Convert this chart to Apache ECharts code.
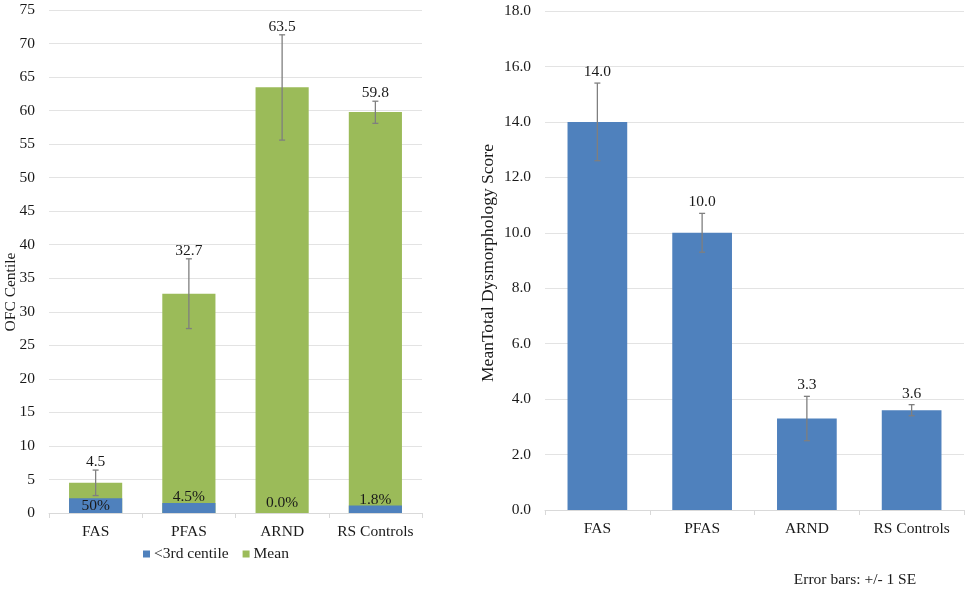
<!DOCTYPE html>
<html>
<head>
<meta charset="utf-8">
<script src="https://cdn.jsdelivr.net/npm/echarts@6/dist/echarts.min.js"></script>
<style>html,body{margin:0;padding:0;background:#fff;}#c{width:969px;height:591px;}</style>
</head>
<body>
<div id="c"></div>
<script>
// ---- data ----
const categories = ['FAS', 'PFAS', 'ARND', 'RS Controls'];
// left chart: OFC centile
const ofcMean = [4.5, 32.7, 63.5, 59.8];
const ofcErrLow = [2.6, 27.5, 55.6, 58.1];
const ofcErrHigh = [6.4, 37.9, 71.3, 61.4];
const below3rd = [2.2, 1.5, 0, 1.1];
const below3rdLabels = ['50%', '4.5%', '0.0%', '1.8%'];
const leftTicks = {min: 0, max: 75, interval: 5};
// right chart: dysmorphology score
const dysMean = [14.0, 10.0, 3.3, 3.6];
const dysErrLow = [12.6, 9.3, 2.5, 3.4];
const dysErrHigh = [15.4, 10.7, 4.1, 3.8];
const rightTicks = {min: 0, max: 18, interval: 2};

// ---- styling ----
const FONT = '"Liberation Serif", "Times New Roman", serif';
const FS = 15.5;
const TXT = '#1a1a1a';
const GREEN = '#9BBB59';
const BLUE = '#4F81BD';
const ERR = '#7f7f7f';

function errSeries(xi, yi, low, high, labels, labelOffset) {
  return {
    type: 'custom', xAxisIndex: xi, yAxisIndex: yi, z: 10, silent: true,
    data: categories.map((c, i) => [i, low[i], high[i]]),
    renderItem: function (params, api) {
      const x = api.value(0);
      const lo = api.coord([x, api.value(1)]);
      const hi = api.coord([x, api.value(2)]);
      const cap = 3;
      const st = {stroke: ERR, lineWidth: 1.3};
      return {type: 'group', children: [
        {type: 'line', shape: {x1: lo[0], y1: lo[1], x2: hi[0], y2: hi[1]}, style: st},
        {type: 'line', shape: {x1: hi[0] - cap, y1: hi[1], x2: hi[0] + cap, y2: hi[1]}, style: st},
        {type: 'line', shape: {x1: lo[0] - cap, y1: lo[1], x2: lo[0] + cap, y2: lo[1]}, style: st},
        {type: 'text', x: hi[0], y: hi[1] - labelOffset, style: {
          text: labels[params.dataIndex], fill: TXT, font: FS + 'px ' + FONT, textAlign: 'center', textVerticalAlign: 'middle'}}
      ]};
    }
  };
}

function xAxisDef(gi) {
  return {
    type: 'category', gridIndex: gi, data: categories,
    axisLine: {lineStyle: {color: '#d9d9d9', width: 1}},
    axisTick: {show: true, length: 5, interval: 0, lineStyle: {color: '#d9d9d9'}},
    axisLabel: {color: TXT, fontFamily: FONT, fontSize: FS, margin: 11, interval: 0}
  };
}
function yAxisDef(gi, t, fmt) {
  return {
    type: 'value', gridIndex: gi, min: t.min, max: t.max, interval: t.interval,
    axisLine: {show: false}, axisTick: {show: false},
    splitLine: {lineStyle: {color: '#e3e3e3', width: 1}},
    axisLabel: {color: TXT, fontFamily: FONT, fontSize: FS, margin: 14, formatter: fmt}
  };
}

const labelPos = ['inside', 'top', 'top', 'top'];
const labelDist = [0, -2, 2, -2];

const option = {
  animation: false,
  backgroundColor: '#fff',
  grid: [
    {left: 49, right: 547, top: 10, bottom: 78},
    {left: 545, right: 5, top: 11, bottom: 81}
  ],
  xAxis: [xAxisDef(0), xAxisDef(1)],
  yAxis: [yAxisDef(0, leftTicks, v => String(v)), yAxisDef(1, rightTicks, v => v.toFixed(1))],
  legend: {
    left: 138, top: 541, data: ['<3rd centile', 'Mean'],
    icon: 'rect', itemWidth: 7, itemHeight: 7, itemGap: 14,
    textStyle: {color: TXT, fontFamily: FONT, fontSize: FS, padding: [0, 0, 0, -1]}
  },
  graphic: [
    {type: 'text', x: 11, y: 292, rotation: Math.PI / 2,
     style: {text: 'OFC Centile', fill: TXT, font: FS + 'px ' + FONT, textAlign: 'center', textVerticalAlign: 'middle'}},
    {type: 'text', x: 488, y: 263, rotation: Math.PI / 2,
     style: {text: 'MeanTotal Dysmorphology Score', fill: TXT, font: '17.5px ' + FONT, textAlign: 'center', textVerticalAlign: 'middle'}},
    {type: 'text', x: 855, y: 580,
     style: {text: 'Error bars: +/- 1 SE', fill: TXT, font: FS + 'px ' + FONT, textAlign: 'center', textVerticalAlign: 'middle'}}
  ],
  series: [
    {name: 'Mean', type: 'bar', xAxisIndex: 0, yAxisIndex: 0, data: ofcMean,
     barWidth: '57%', barGap: '-100%', itemStyle: {color: GREEN}},
    {name: '<3rd centile', type: 'bar', xAxisIndex: 0, yAxisIndex: 0,
     data: below3rd.map((v, i) => ({value: v, label: {position: labelPos[i], distance: labelDist[i]}})),
     barWidth: '57%', barGap: '-100%', itemStyle: {color: BLUE},
     label: {show: true, color: TXT, fontFamily: FONT, fontSize: FS,
       formatter: p => below3rdLabels[p.dataIndex]}},
    errSeries(0, 0, ofcErrLow, ofcErrHigh, ofcMean.map(v => v.toFixed(1)), 8),
    {name: 'Score', type: 'bar', xAxisIndex: 1, yAxisIndex: 1, data: dysMean,
     barWidth: '57%', itemStyle: {color: BLUE}},
    errSeries(1, 1, dysErrLow, dysErrHigh, dysMean.map(v => v.toFixed(1)), 11)
  ]
};

const chart = echarts.init(document.getElementById('c'), null, {renderer: 'canvas'});
chart.setOption(option);
</script>
</body>
</html>
